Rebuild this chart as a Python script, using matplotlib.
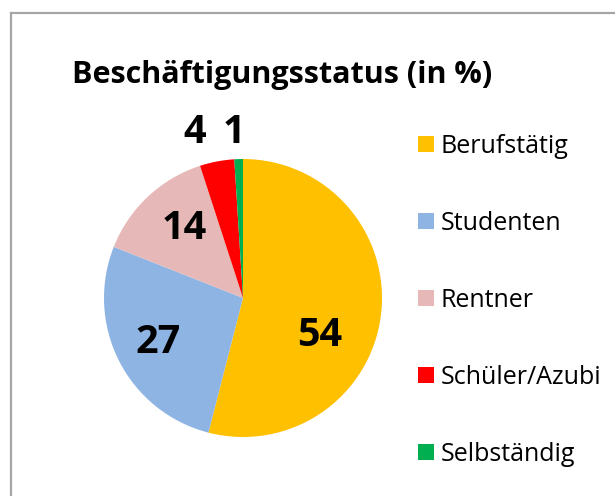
import matplotlib
matplotlib.use("Agg")
import matplotlib.pyplot as plt
from matplotlib.lines import Line2D

# data
categories = ["Berufstätig", "Studenten", "Rentner", "Schüler/Azubi", "Selbständig"]
values = [54, 27, 14, 4, 1]
colors = ["#FFC000", "#8EB4E3", "#E6B9B8", "#FF0000", "#00B050"]
# label positions (pie data coords, radius = 1)
label_xy = [(0.55, -0.27), (-0.61, -0.32), (-0.42, 0.50), (-0.35, 1.19), (-0.065, 1.19)]

plt.rcParams["font.family"] = ["Open Sans", "DejaVu Sans"]

W, H = 615, 496
fig = plt.figure(figsize=(W / 100, H / 100), dpi=100)

# pie axes: center (243, 298) px, radius 139 px
cx, cy, r = 243, 298, 139
ax = fig.add_axes([(cx - r) / W, (H - cy - r) / H, 2 * r / W, 2 * r / H])
wedges, _ = ax.pie(values, colors=colors, startangle=90, counterclock=False,
                   radius=1, wedgeprops=dict(linewidth=0))
ax.set_xlim(-1, 1)
ax.set_ylim(-1, 1)
ax.set_aspect("equal")
ax.axis("off")

for v, (x, y) in zip(values, label_xy):
    ax.text(x, y, str(v), ha="center", va="center", fontsize=28.5,
            fontweight="bold", color="black", clip_on=False)

fig.text(72 / W, 1 - 83 / H, "Beschäftigungsstatus (in %)", fontsize=22,
         fontweight="bold", ha="left", va="baseline")

fig.legend(wedges, categories, loc="upper left",
           bbox_to_anchor=(408 / W, 1 - 124 / H), frameon=False,
           fontsize=18, handlelength=0.62, handleheight=0.62,
           handletextpad=0.28, labelspacing=2.08, borderaxespad=0)

# frame (only top and left edges visible)
fig.add_artist(Line2D([11 / W, 1.0], [1 - 13 / H, 1 - 13 / H], color="#A6A6A6", lw=1.6))
fig.add_artist(Line2D([11 / W, 11 / W], [0.0, 1 - 13 / H], color="#A6A6A6", lw=1.6))

fig.savefig("out.png", dpi=100, facecolor="white")
